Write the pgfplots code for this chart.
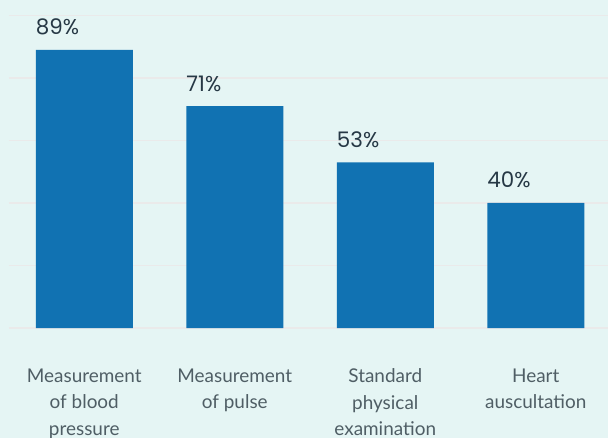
\documentclass[border=0pt]{standalone}
\usepackage{pgfplots}
\pgfplotsset{compat=1.18}
\usepackage{fontspec}
\setmainfont{Lato}
\newfontfamily\pctfont{Poppins}
\definecolor{bg}{HTML}{E5F5F4}
\definecolor{barc}{HTML}{1172B2}
\definecolor{gridc}{HTML}{EAEAEA}
\definecolor{pctc}{HTML}{263845}
\definecolor{labc}{HTML}{4F5E65}
\begin{document}
\begin{tikzpicture}
\path[use as bounding box, fill=bg] (-9bp,-110bp) rectangle (599bp,328bp);
\begin{axis}[
  at={(0,0)}, anchor=south west,
  scale only axis,
  width=599bp, height=312.5bp,
  xmin=-0.5, xmax=3.48,
  ymin=0, ymax=100,
  ytick={0,20,40,60,80,100},
  yticklabels={},
  ymajorgrids,
  grid style={draw=gridc, line width=1.6bp},
  axis line style={draw=none},
  major tick length=0pt,
  /pgf/number format/assume math mode=true,
  xtick=data,
  xticklabels={{Measurement\\of blood\\pressure},{Measurement\\of pulse},{Standard\\physical\\examination},{Heart\\auscultation}},
  xticklabel style={align=center, font=\fontsize{19}{26.7}\selectfont, text=labc, anchor=north, yshift=-37bp},
  ybar, bar width=97bp,
  nodes near coords={\pgfmathprintnumber{\pgfplotspointmeta}\%},
  nodes near coords style={font=\pctfont\fontsize{21.5}{24}\selectfont, text=pctc, anchor=base west, xshift=-48.5bp, yshift=15bp, inner sep=0pt},
]
\addplot[fill=barc, draw=none] coordinates {(0,89) (1,71) (2,53) (3,40)};
\end{axis}
\end{tikzpicture}
\end{document}
